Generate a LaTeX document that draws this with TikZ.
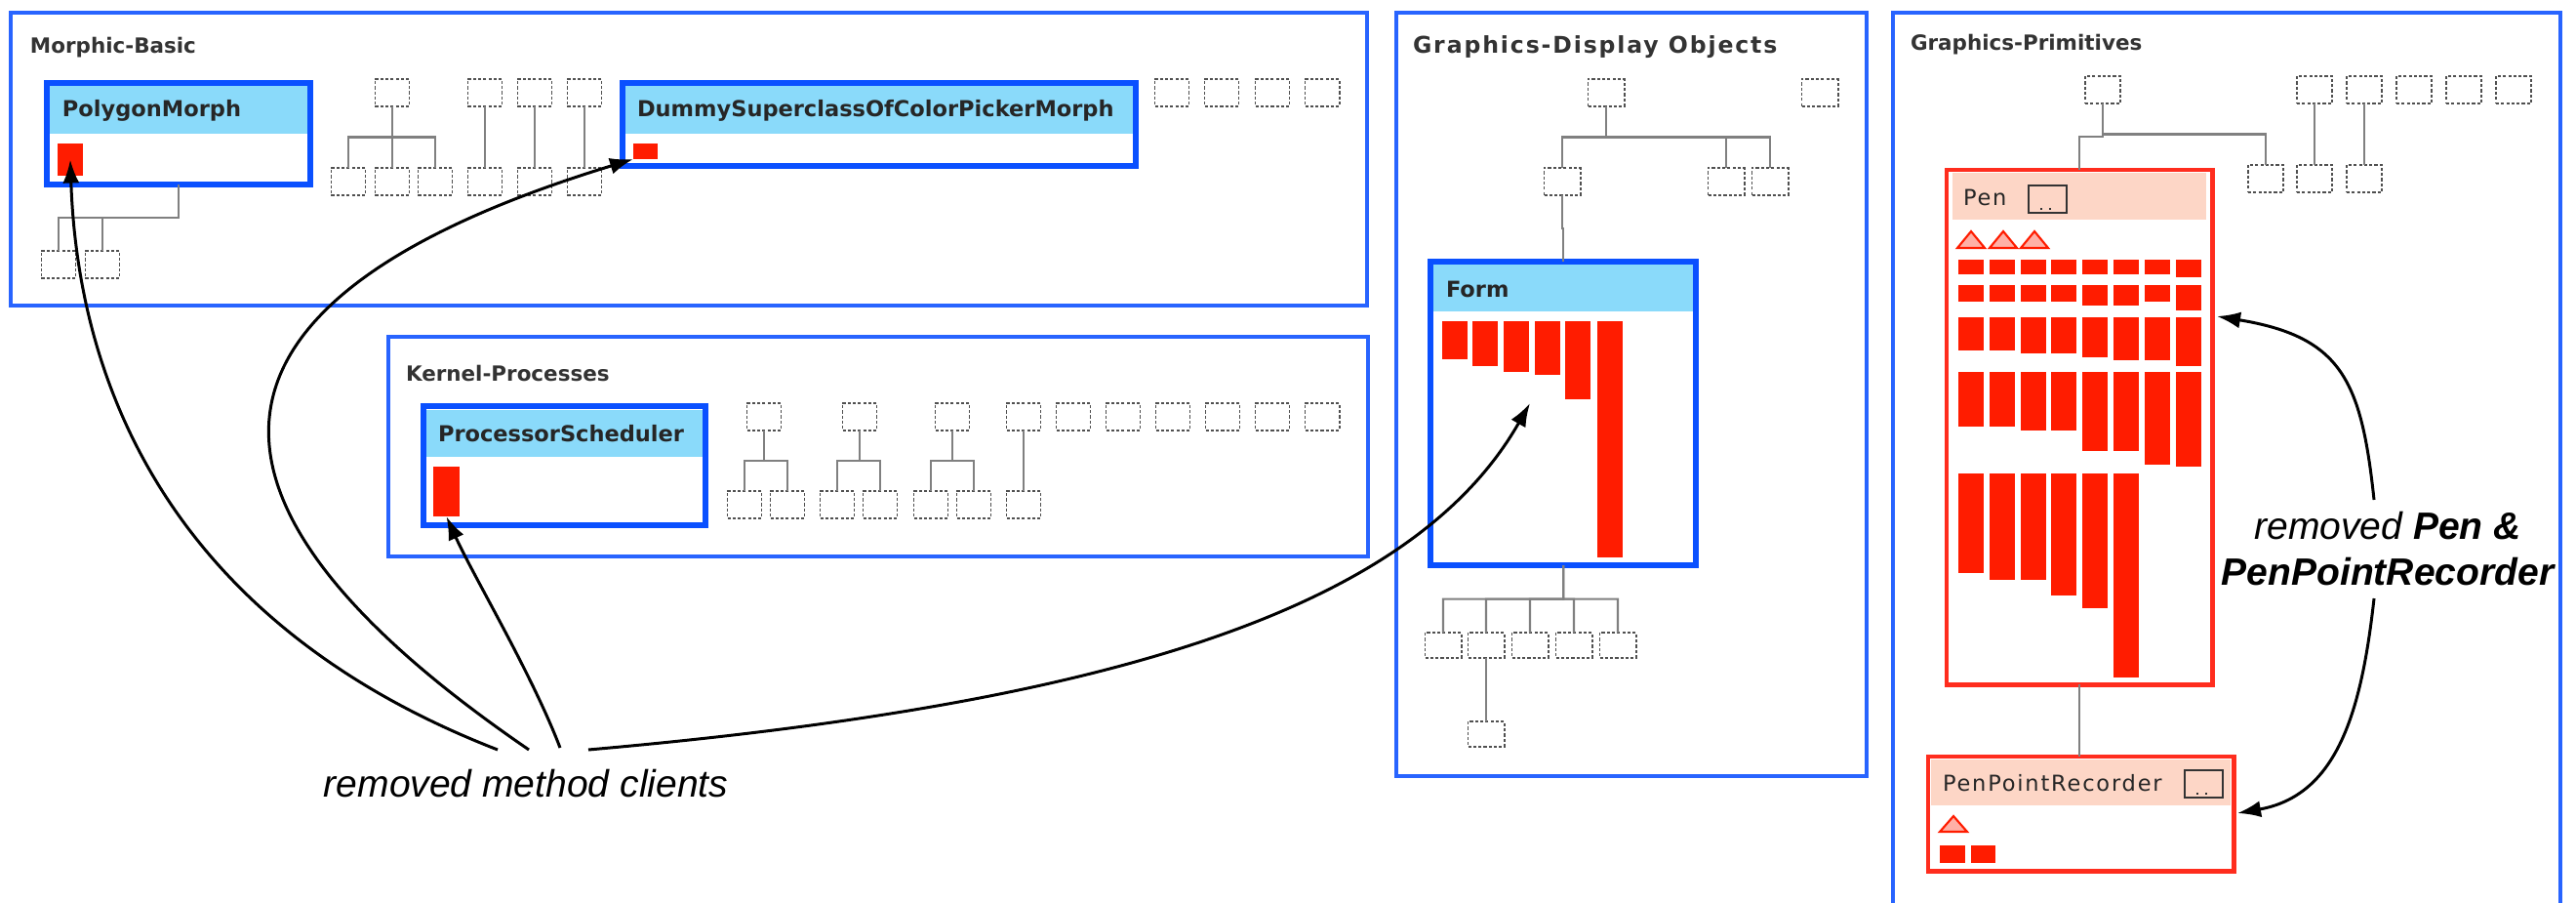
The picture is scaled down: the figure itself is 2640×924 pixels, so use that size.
\documentclass[tikz,border=0pt]{standalone}
\usepackage{fontspec}
\setmainfont{Liberation Sans}
\newfontfamily\vera{DejaVu Sans}
\newfontfamily\veraspaced[LetterSpace=8]{DejaVu Sans}
\usepackage{tikz}
\usetikzlibrary{arrows.meta, positioning, calc}
\usepackage{xcolor}
\definecolor{pkgblue}{RGB}{40, 100, 255}
\definecolor{clsblue}{RGB}{10, 80, 255}
\definecolor{hdrblue}{RGB}{138, 218, 250}
\definecolor{hdrpink}{RGB}{253, 214, 198}
\definecolor{methred}{RGB}{255, 28, 0}
\definecolor{gonered}{RGB}{255, 45, 30}
\definecolor{stubgray}{RGB}{80, 80, 80}
\definecolor{linegray}{RGB}{128, 128, 128}

\newcommand{\treeedge}[2]{\draw[treeline] (#1.south) -- ($(#1.south)!.5!(#1.south|-#2.north)$) -| (#2.north);}

\begin{document}
\begin{tikzpicture}[x=0.01cm, y=-0.01cm,
    every node/.style={inner sep=0pt, outer sep=0pt},
    pkg/.style={draw=pkgblue, line width=0.9pt},
    pkgname/.style={anchor=west, font=\vera\bfseries\fontsize{6.1}{7}\selectfont, text=black!80},
    cls/.style={draw=clsblue, line width=1.7pt, anchor=north west},
    gone/.style={draw=gonered, line width=1.4pt, anchor=north west},
    clsname/.style={anchor=west, font=\vera\bfseries\fontsize{6.4}{7}\selectfont, text=black!85},
    gonename/.style={anchor=west, font=\veraspaced\fontsize{6.4}{7}\selectfont, text=black!85},
    stub/.style={draw=stubgray, line width=0.55pt, dash pattern=on 0.9pt off 0.6pt, minimum width=0.35cm, minimum height=0.28cm},
    method/.style={fill=methred, anchor=north west},
    treeline/.style={draw=linegray, line width=0.6pt},
    client/.style={draw=black, line width=0.85pt, -{Latex[length=0.24cm, width=0.17cm]}},
    note/.style={font=\itshape\fontsize{11.1}{13.4}\selectfont, align=center}]
    \fill[white] (0,0) rectangle (2640,924);
    \useasboundingbox (0,0) rectangle (2640,924);

    % Morphic-Basic
    \draw[pkg] (11,13) rectangle (1401,313);
    \node[pkgname] (mbname) at (31,49) {Morphic-Basic};
    \fill[hdrblue] (51,88) rectangle (315,137);
    \node[cls, minimum width=2.70cm, minimum height=1.04cm] (polygon) at (48,85) {};
    \node[clsname] (polyname) at (64,113) {PolygonMorph};
    \node[method, minimum width=0.26cm, minimum height=0.33cm] (polym) at (59,147) {};
    \node[stub] (pm1) at (60,271) {};
    \node[stub] (pm2) at (105,271) {};
    \treeedge{polygon}{pm1}
    \treeedge{polygon}{pm2}
    \node[stub] (mt) at (402,95) {};
    \foreach \x [count=\i] in {357,402,446} {
        \node[stub] (mc\i) at (\x,186) {};
        \treeedge{mt}{mc\i}
    }
    \foreach \x [count=\i] in {497,548,599} {
        \node[stub] (mp\i) at (\x,95) {};
        \node[stub] (mq\i) at (\x,186) {};
        \treeedge{mp\i}{mq\i}
    }
    \fill[hdrblue] (641,88) rectangle (1161,137);
    \node[cls, minimum width=5.26cm, minimum height=0.85cm] (dummy) at (638,85) {};
    \node[clsname] (dummyname) at (653,113) {DummySuperclassOfColorPickerMorph};
    \node[method, minimum width=0.25cm, minimum height=0.16cm] (dummym) at (649,147) {};
    \foreach \x [count=\i] in {1201,1252,1304,1355} \node[stub] (ml\i) at (\x,95) {};

    % Kernel-Processes
    \draw[pkg] (398,345) rectangle (1402,570);
    \node[pkgname] (kpname) at (416,382) {Kernel-Processes};
    \fill[hdrblue] (437,420) rectangle (720,468);
    \node[cls, minimum width=2.89cm, minimum height=1.22cm] (proc) at (434,416) {};
    \node[clsname] (procname) at (449,444) {ProcessorScheduler};
    \node[method, minimum width=0.27cm, minimum height=0.51cm] (procm) at (444,478) {};
    \foreach \x/\a/\b [count=\i] in {783/763/807, 881/858/902, 976/954/998} {
        \node[stub] (kt\i) at (\x,427) {};
        \node[stub] (ka\i) at (\a,517) {};
        \node[stub] (kb\i) at (\b,517) {};
        \treeedge{kt\i}{ka\i}
        \treeedge{kt\i}{kb\i}
    }
    \foreach \x [count=\i] in {1049,1100,1151,1202,1253,1304,1355} \node[stub] (kr\i) at (\x,427) {};
    \node[stub] (kc1) at (1049,517) {};
    \treeedge{kr1}{kc1}

    % Graphics-Display Objects
    \draw[pkg] (1431,13) rectangle (1913,795);
    \node[pkgname, font=\veraspaced\bfseries\fontsize{6.7}{7}\selectfont] (gdname) at (1448,48) {Graphics-Display Objects};
    \node[stub, minimum width=0.37cm] (dt) at (1646,95) {};
    \node[stub, minimum width=0.37cm] (dl) at (1865,95) {};
    \foreach \x [count=\i] in {1601,1769,1814} {
        \node[stub, minimum width=0.37cm] (dc\i) at (\x,186) {};
        \treeedge{dt}{dc\i}
    }
    \fill[hdrblue] (1469,271) rectangle (1735,319);
    \node[cls, minimum width=2.72cm, minimum height=3.11cm] (form) at (1466,268) {};
    \node[clsname] (formname) at (1482,296) {Form};
    \treeedge{dc1}{form}
    \foreach \x/\b in {1478/368, 1509/375, 1541/381, 1573/384, 1604/409, 1637/571}
        \fill[methred] (\x,329) rectangle (\x+26,\b);
    \foreach \x [count=\i] in {1479,1523,1568,1613,1658} {
        \node[stub, minimum width=0.37cm, minimum height=0.26cm] (fc\i) at (\x,661) {};
        \treeedge{form}{fc\i}
    }
    \node[stub, minimum width=0.37cm, minimum height=0.26cm] (fg) at (1523,752) {};
    \treeedge{fc2}{fg}

    % Graphics-Primitives
    \draw[pkg] (1940,13) rectangle (2624,960);
    \node[pkgname] (gpname) at (1958,46) {Graphics-Primitives};
    \node[stub, minimum width=0.36cm] (pt) at (2155,92) {};
    \node[stub, minimum width=0.36cm] (pc) at (2322,183) {};
    \treeedge{pt}{pc}
    \foreach \x [count=\i] in {2372,2423,2474,2525,2576} \node[stub, minimum width=0.36cm] (pr\i) at (\x,92) {};
    \foreach \x [count=\i] in {2372,2423} {
        \node[stub, minimum width=0.36cm] (ps\i) at (\x,183) {};
        \treeedge{pr\i}{ps\i}
    }
    \fill[hdrpink] (2001,177) rectangle (2261,225);
    \node[gone, minimum width=2.72cm, minimum height=5.27cm] (pen) at (1995,174) {};
    \node[gonename] (penname) at (2012,202) {Pen};
    \draw[black!80, line width=0.7pt] (2079,190) rectangle (2118,218);
    \draw[black!80, line width=0.6pt, dotted] (2091,214) -- (2107,214);
    \treeedge{pt}{pen}
    \foreach \x in {2020,2053,2085}
        \filldraw[fill=methred!35, draw=methred, line width=0.6pt] (\x-14,254) -- (\x,237) -- (\x+14,254) -- cycle;
    \foreach \t/\bs in {266/{281,281,281,281,281,281,281,284},
                        292/{309,309,309,309,313,313,309,318},
                        325/{359,359,362,362,366,369,369,375},
                        381/{437,437,441,441,462,462,476,478},
                        485/{587,594,594,610,623,694}} {
        \foreach \b [count=\i from 0] in \bs
            \fill[methred] ({2007+31.8*\i},\t) rectangle ++(26,\b-\t);
    }
    \fill[hdrpink] (1979,778) rectangle (2286,825);
    \node[gone, minimum width=3.13cm, minimum height=1.17cm] (ppr) at (1976,775) {};
    \node[gonename] (pprname) at (1991,802) {PenPointRecorder};
    \draw[black!80, line width=0.7pt] (2239,789) rectangle (2278,817);
    \draw[black!80, line width=0.6pt, dotted] (2251,813) -- (2267,813);
    \filldraw[fill=methred!35, draw=methred, line width=0.6pt] (1988,852) -- (2002,836) -- (2016,852) -- cycle;
    \fill[methred] (1988,866) rectangle (2014,884);
    \fill[methred] (2020,866) rectangle (2045,884);
    \draw[treeline] (pen.south) -- (ppr.north -| pen.south);

    % Notas y flechas
    \node[note] (clients) at (539,803) {removed method clients};
    \coordinate (s1) at (510,768);
    \coordinate (s2) at (542,768);
    \coordinate (s3) at (574,766);
    \coordinate (s4) at (603,768);
    \coordinate (formtip) at (1568,413);
    \draw[client] (s1) .. controls (180,640) and (80,400) .. (polym.center);
    \draw[client] (s2) .. controls (150,500) and (200,300) .. (dummym.south west);
    \draw[client] (s3) .. controls (545,690) and (485,590) .. (procm.south);
    \draw[client] (s4) .. controls (1150,720) and (1450,620) .. (formtip);

    \node[note] (penlbl) at (2447,562) {removed \textbf{Pen \&}\\\textbf{PenPointRecorder}};
    \coordinate (r1) at (2433,512);
    \coordinate (r2) at (2433,613);
    \coordinate (pentip) at (2272,324);
    \coordinate (pprtip) at (2293,833);
    \draw[client] (r1) .. controls (2420,390) and (2400,345) .. (pentip);
    \draw[client] (r2) .. controls (2420,730) and (2395,815) .. (pprtip);
\end{tikzpicture}
\end{document}
